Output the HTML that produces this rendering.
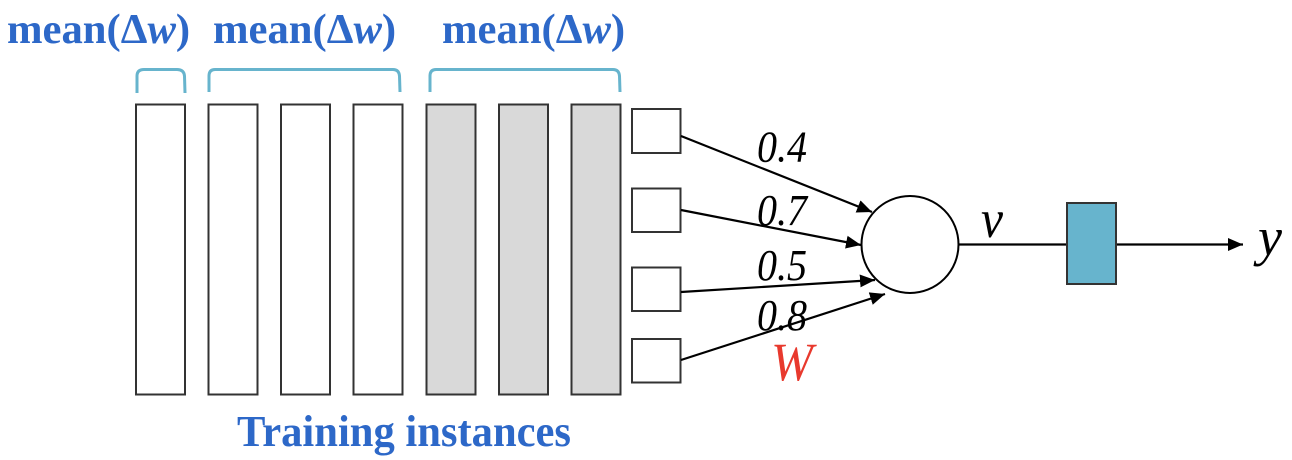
<!DOCTYPE html>
<html lang="en">
<head>
<meta charset="utf-8">
<title>Training instances diagram</title>
<style>
html,body{margin:0;padding:0;background:#fff;width:1292px;height:460px;overflow:hidden}
svg{display:block}
.hd{font:bold 42.67px "Liberation Serif",serif;fill:#2d68c8}
.w{font:italic 44px "Liberation Serif",serif;fill:#000}
</style>
</head>
<body>
<svg width="1292" height="460" viewBox="0 0 1292 460" xmlns="http://www.w3.org/2000/svg">
<defs>
<marker id="ah" markerUnits="userSpaceOnUse" markerWidth="16" markerHeight="14" refX="15" refY="7" orient="auto"><path d="M0 0.500L15 7L0 13.500Z" fill="#000"/></marker>
</defs>
<text class="hd" x="7" y="43">mean(Δ<tspan font-style="italic">w</tspan>)</text>
<text class="hd" x="213" y="43">mean(Δ<tspan font-style="italic">w</tspan>)</text>
<text class="hd" x="442" y="43">mean(Δ<tspan font-style="italic">w</tspan>)</text>
<g fill="none" stroke="#67b4cd" stroke-width="3">
<path d="M137 93V76Q137 69.500 144 69.500H177Q184 69.500 184.500 76L185 93"/>
<path d="M209 92V76Q209 69.500 215 69.500H393Q399 69.500 399.500 76L400 92"/>
<path d="M430 92V76Q430 69.500 436 69.500H613Q619 69.500 619.500 76L620 92"/>
</g>
<g stroke="#333" stroke-width="2">
<rect x="136" y="104.500" width="49" height="290" fill="#fff"/>
<rect x="208.500" y="104.500" width="49" height="290" fill="#fff"/>
<rect x="281" y="104.500" width="49" height="290" fill="#fff"/>
<rect x="353.500" y="104.500" width="49" height="290" fill="#fff"/>
<rect x="426.500" y="104.500" width="49" height="290" fill="#d9d9d9"/>
<rect x="499" y="104.500" width="49" height="290" fill="#d9d9d9"/>
<rect x="571.500" y="104.500" width="49" height="290" fill="#d9d9d9"/>
<rect x="632" y="109" width="48.500" height="44" fill="#fff"/>
<rect x="632" y="188.500" width="48.500" height="43.500" fill="#fff"/>
<rect x="632" y="267.500" width="48.500" height="43.500" fill="#fff"/>
<rect x="632" y="339" width="48.500" height="43.500" fill="#fff"/>
</g>
<g stroke="#000" stroke-width="2.200" fill="none">
<line x1="681" y1="136" x2="872" y2="212" marker-end="url(#ah)"/>
<line x1="681" y1="210" x2="861" y2="245" marker-end="url(#ah)"/>
<line x1="681" y1="292" x2="875" y2="280" marker-end="url(#ah)"/>
<line x1="681" y1="360" x2="885" y2="294" marker-end="url(#ah)"/>
<circle cx="910" cy="244.500" r="48.500" fill="#fff" stroke-width="2"/>
<line x1="958" y1="244.500" x2="1067" y2="244.500"/>
<line x1="1116" y1="244.500" x2="1243" y2="244.500" marker-end="url(#ah)"/>
</g>
<rect x="1067" y="203" width="49" height="81" fill="#67b4cd" stroke="#333" stroke-width="2"/>
<text class="w" x="757" y="161.500" textLength="50" lengthAdjust="spacingAndGlyphs">0.4</text>
<text class="w" x="757" y="225" textLength="50" lengthAdjust="spacingAndGlyphs">0.7</text>
<text class="w" x="757" y="280" textLength="50" lengthAdjust="spacingAndGlyphs">0.5</text>
<text class="w" x="757" y="330" textLength="50" lengthAdjust="spacingAndGlyphs">0.8</text>
<text class="w" x="771" y="380" textLength="42" lengthAdjust="spacingAndGlyphs" style="fill:#e8392d;font-size:54px">W</text>
<text class="w" x="981" y="237" textLength="22" lengthAdjust="spacingAndGlyphs" style="font-size:54px">v</text>
<text class="w" x="1258" y="255" style="font-size:54px">y</text>
<text x="237" y="446" textLength="334" lengthAdjust="spacingAndGlyphs" style="font:bold 44px 'Liberation Serif',serif;fill:#2d68c8">Training instances</text>
</svg>
</body>
</html>
